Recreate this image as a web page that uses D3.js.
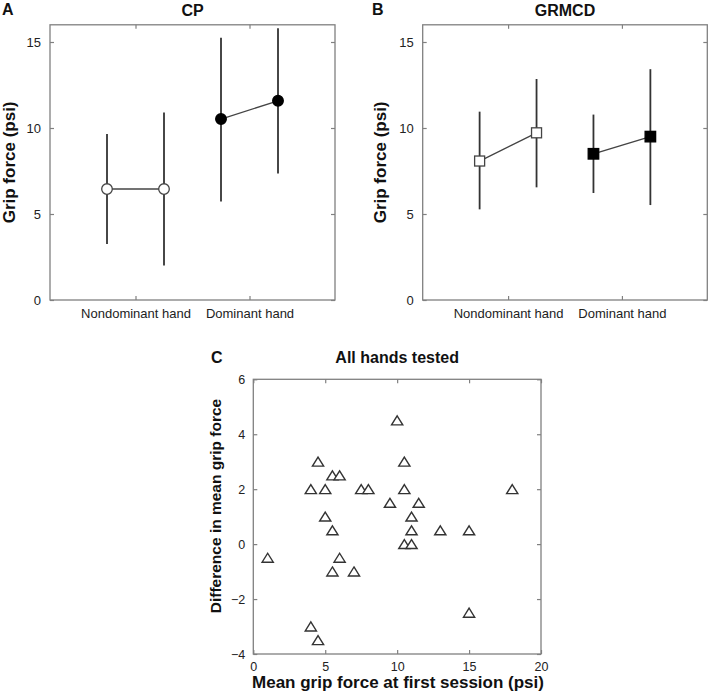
<!DOCTYPE html>
<html>
<head>
<meta charset="utf-8">
<script src="https://cdn.jsdelivr.net/npm/d3@7"></script>
<style>
  html, body { margin: 0; padding: 0; background: #fff; }
  svg { display: block; font-family: "Liberation Sans", Arial, Helvetica, sans-serif; }
</style>
</head>
<body>
<svg id="chart" width="710" height="693"></svg>
<script>
// ---------------- DATA ----------------
const hands = ["Nondominant hand", "Dominant hand"];
const sessionOffsets = [-0.25, 0.25];           // session 1, session 2 within each hand
const yTicksAB = [0, 5, 10, 15];

// Panel A (CP): order = [nondominant s1, nondominant s2, dominant s1, dominant s2]
const cpMean = [6.45, 6.45, 10.52, 11.58];
const cpLow  = [3.25, 2.00, 5.72, 7.35];
const cpHigh = [9.65, 10.90, 15.25, 15.80];

// Panel B (GRMCD)
const grmcdMean = [8.08, 9.72, 8.50, 9.50];
const grmcdLow  = [5.27, 6.55, 6.22, 5.52];
const grmcdHigh = [10.95, 12.85, 10.78, 13.42];

// Panel C (all hands tested)
const firstSession = [1, 4, 4.5, 5, 5.5, 6, 5, 5.5, 6, 5.5, 7, 7.5, 8, 9.5, 10, 10.5, 10.5, 11.5, 11, 11, 10.5, 11, 13, 15, 18, 15, 4, 4.5];
const meanDiff     = [-0.5, 2, 3, 2, 2.5, 2.5, 1, 0.5, -0.5, -1, -1, 2, 2, 1.5, 4.5, 3, 2, 1.5, 1, 0.5, 0, 0, 0.5, 0.5, 2, -2.5, -3, -3.5];
const xTicksC = [0, 5, 10, 15, 20];
const yTicksC = [-4, -2, 0, 2, 4, 6];

// ---------------- DRAW ----------------
const svg = d3.select("#chart");
const boxColor = "#808080";
const lineColor = "#333";

function drawBox(g, x0, x1, y0, y1) {
  g.append("rect").attr("x", x0).attr("y", y1).attr("width", x1 - x0).attr("height", y0 - y1)
    .attr("fill", "none").attr("stroke", boxColor).attr("stroke-width", 1.3);
}

function panelAB(opts) {
  const { left, right, top, bottom, mean, low, high, marker, letter, title, letterX, titleX } = opts;
  const g = svg.append("g");
  const x = d3.scaleLinear().domain([0.25, 2.75]).range([left, right]);
  const y = d3.scaleLinear().domain([0, 16]).range([bottom, top]);

  drawBox(g, left, right, bottom, top);

  // axes with inward ticks
  const xAxis = d3.axisBottom(x).tickValues([1, 2]).tickSize(-4).tickPadding(9)
    .tickFormat((d) => hands[d - 1]);
  const gx = g.append("g").attr("transform", `translate(0,${bottom})`).call(xAxis);
  const xTop = d3.axisTop(x).tickValues([1, 2]).tickSize(-4).tickFormat("");
  const gxt = g.append("g").attr("transform", `translate(0,${top})`).call(xTop);
  const yAxis = d3.axisLeft(y).tickValues(yTicksAB).tickSize(-4).tickPadding(9);
  const gy = g.append("g").attr("transform", `translate(${left},0)`).call(yAxis);
  const yRight = d3.axisRight(y).tickValues(yTicksAB).tickSize(-4).tickFormat("");
  const gyr = g.append("g").attr("transform", `translate(${right},0)`).call(yRight);
  [gx, gxt, gy, gyr].forEach((a) => {
    a.select(".domain").remove();
    a.selectAll("line").attr("stroke", boxColor).attr("stroke-width", 1.2);
    a.selectAll("text").attr("font-size", 13).attr("fill", "#222")
      .attr("font-family", "'Liberation Sans', Arial, sans-serif");
  });

  // points data
  const pts = mean.map((m, i) => ({
    x: 1 + Math.floor(i / 2) + sessionOffsets[i % 2],
    m, lo: low[i], hi: high[i], hand: Math.floor(i / 2)
  }));

  // error bars
  g.selectAll(".err").data(pts).enter().append("line")
    .attr("x1", (d) => x(d.x)).attr("x2", (d) => x(d.x))
    .attr("y1", (d) => y(d.lo)).attr("y2", (d) => y(d.hi))
    .attr("stroke", lineColor).attr("stroke-width", 1.8);

  // connecting lines
  [0, 1].forEach((h) => {
    const pair = pts.filter((p) => p.hand === h);
    g.append("path")
      .attr("d", d3.line().x((d) => x(d.x)).y((d) => y(d.m))(pair))
      .attr("fill", "none").attr("stroke", "#444").attr("stroke-width", 1.4);
  });

  // markers
  pts.forEach((p) => {
    const filled = p.hand === 1;
    if (marker === "circle") {
      g.append("circle").attr("cx", x(p.x)).attr("cy", y(p.m)).attr("r", filled ? 5.3 : 5.3)
        .attr("fill", filled ? "#000" : "#fff").attr("stroke", filled ? "#000" : "#444")
        .attr("stroke-width", 1.3);
    } else {
      const s = filled ? 10.5 : 10;
      g.append("rect").attr("x", x(p.x) - s / 2).attr("y", y(p.m) - s / 2)
        .attr("width", s).attr("height", s)
        .attr("fill", filled ? "#000" : "#fff").attr("stroke", filled ? "#000" : "#444")
        .attr("stroke-width", 1.3);
    }
  });

  // y title
  g.append("text").attr("transform", `translate(${titleX},${(top + bottom) / 2}) rotate(-90)`)
    .attr("text-anchor", "middle").attr("font-weight", "bold").attr("font-size", 17)
    .attr("fill", "#111").text("Grip force (psi)");
  // panel title
  g.append("text").attr("x", (left + right) / 2).attr("y", 16).attr("text-anchor", "middle")
    .attr("font-weight", "bold").attr("font-size", 16).attr("fill", "#111").text(title);
  // letter
  g.append("text").attr("x", letterX).attr("y", 15).attr("font-weight", "bold")
    .attr("font-size", 16).attr("fill", "#111").text(letter);
}

panelAB({ left: 50, right: 335, top: 24.8, bottom: 300, mean: cpMean, low: cpLow, high: cpHigh,
  marker: "circle", letter: "A", title: "CP", letterX: 2, titleX: 15 });
panelAB({ left: 422.7, right: 707.3, top: 24.8, bottom: 300, mean: grmcdMean, low: grmcdLow, high: grmcdHigh,
  marker: "square", letter: "B", title: "GRMCD", letterX: 372, titleX: 386 });

// Panel C
(function () {
  const left = 253.3, right = 541, top = 379.3, bottom = 654;
  const g = svg.append("g");
  const x = d3.scaleLinear().domain([0, 20]).range([left, right]);
  const y = d3.scaleLinear().domain([-4, 6]).range([bottom, top]);
  drawBox(g, left, right, bottom, top);

  const gx = g.append("g").attr("transform", `translate(0,${bottom})`)
    .call(d3.axisBottom(x).tickValues(xTicksC).tickSize(-4).tickPadding(8));
  const gxt = g.append("g").attr("transform", `translate(0,${top})`)
    .call(d3.axisTop(x).tickValues(xTicksC).tickSize(-4).tickFormat(""));
  const gy = g.append("g").attr("transform", `translate(${left},0)`)
    .call(d3.axisLeft(y).tickValues(yTicksC).tickSize(-4).tickPadding(8));
  const gyr = g.append("g").attr("transform", `translate(${right},0)`)
    .call(d3.axisRight(y).tickValues(yTicksC).tickSize(-4).tickFormat(""));
  [gx, gxt, gy, gyr].forEach((a) => {
    a.select(".domain").remove();
    a.selectAll("line").attr("stroke", boxColor).attr("stroke-width", 1.2);
    a.selectAll("text").attr("font-size", 12.5).attr("fill", "#222")
      .attr("font-family", "'Liberation Sans', Arial, sans-serif");
  });

  const pts = firstSession.map((v, i) => ({ x: v, y: meanDiff[i] }));
  g.selectAll(".tri").data(pts).enter().append("path")
    .attr("transform", (d) => `translate(${x(d.x)},${y(d.y)})`)
    .attr("d", "M0,-4.6L5.6,4.4L-5.6,4.4Z")
    .attr("fill", "#fff").attr("stroke", "#333").attr("stroke-width", 1.4)
    .attr("stroke-linejoin", "miter");

  g.append("text").attr("transform", `translate(221,506) rotate(-90)`)
    .attr("text-anchor", "middle").attr("font-weight", "bold").attr("font-size", 15.5)
    .attr("fill", "#111").text("Difference in mean grip force");
  g.append("text").attr("x", 398).attr("y", 688).attr("text-anchor", "middle")
    .attr("font-weight", "bold").attr("font-size", 17).attr("fill", "#111")
    .text("Mean grip force at first session (psi)");
  g.append("text").attr("x", (left + right) / 2).attr("y", 363).attr("text-anchor", "middle")
    .attr("font-weight", "bold").attr("font-size", 16).attr("fill", "#111").text("All hands tested");
  g.append("text").attr("x", 211).attr("y", 363).attr("font-weight", "bold")
    .attr("font-size", 16).attr("fill", "#111").text("C");
})();
</script>
</body>
</html>
